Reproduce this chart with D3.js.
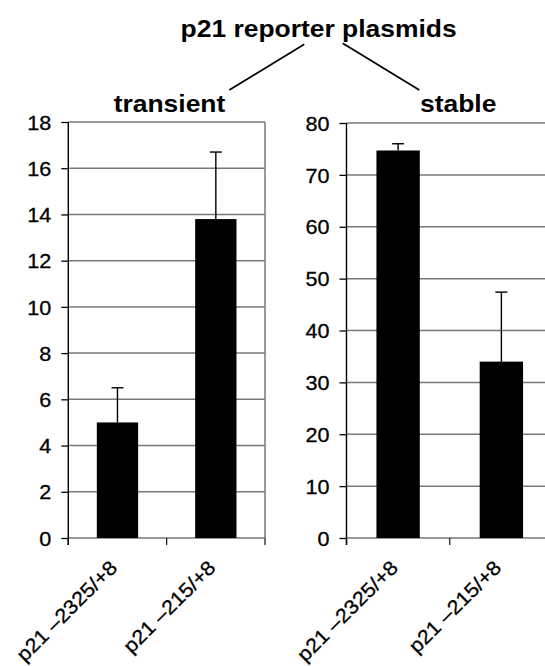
<!DOCTYPE html>
<html>
<head>
<meta charset="utf-8">
<script src="https://cdn.jsdelivr.net/npm/d3@7"></script>
<style>
  html, body { margin: 0; padding: 0; background: #fff; }
  svg { display: block; }
  text { font-family: "Liberation Sans", Arial, sans-serif; fill: #000; }
</style>
</head>
<body>
<script>
// Reporter constructs shown on both panels
const categories = ["p21 \u20132325/+8", "p21 \u2013215/+8"];

// Transient transfection: mean and upper error
const transientValues = [5.0, 13.8];
const transientErrors = [1.5, 2.9];
const transientTicks = [0, 2, 4, 6, 8, 10, 12, 14, 16, 18];

// Stable transfection: mean and upper error
const stableValues = [74.7, 34.0];
const stableErrors = [1.3, 13.4];
const stableTicks = [0, 10, 20, 30, 40, 50, 60, 70, 80];

const panelTitles = ["transient", "stable"];
const mainTitle = "p21 reporter plasmids";

// ---- layout ----
const W = 545, H = 666;
const SX_TITLE = 1.15;      // horizontal glyph widening, titles
const SX_TICK = 1.08;       // horizontal glyph widening, tick/category labels
const TICK_FONT = 20;
const TITLE_FONT = 23;
const GRID = "#787878";

const svg = d3.select("body").append("svg")
  .attr("width", W).attr("height", H);

// text whose glyphs are widened along the baseline
function wideText(parent, x, y, str, opts = {}) {
  const rot = opts.rotate ? ` rotate(${opts.rotate})` : "";
  const sx = opts.sx || SX_TICK;
  return parent.append("text")
    .attr("transform", `translate(${x},${y})${rot} scale(${sx},1)`)
    .attr("text-anchor", opts.anchor || "middle")
    .attr("font-size", opts.size || TICK_FONT)
    .attr("font-weight", opts.bold ? "bold" : "normal")
    .attr("stroke", opts.bold ? "none" : "#000")
    .attr("stroke-width", opts.bold ? 0 : 0.3)
    .text(str);
}

const panels = [
  { title: panelTitles[0], values: transientValues, errors: transientErrors,
    ticks: transientTicks, x0: 68.3, x1: 265, yTop: 122, yBot: 538,
    titleX: 169.5 },
  { title: panelTitles[1], values: stableValues, errors: stableErrors,
    ticks: stableTicks, x0: 346.5, x1: 553, yTop: 123, yBot: 538,
    titleX: 458.2 }
];

panels.forEach(p => {
  const g = svg.append("g");
  const y = d3.scaleLinear()
    .domain([0, d3.max(p.ticks)])
    .range([p.yBot, p.yTop]);
  const x = d3.scaleBand()
    .domain(categories)
    .range([p.x0, p.x1])
    .paddingInner(0.58)
    .paddingOuter(0.29);
  const step = x.step();

  // horizontal gridlines (including frame top and zero line)
  g.append("g").selectAll("line")
    .data(p.ticks)
    .join("line")
    .attr("x1", p.x0).attr("x2", p.x1)
    .attr("y1", d => y(d)).attr("y2", d => y(d))
    .attr("stroke", GRID).attr("stroke-width", 1.5);

  // right frame edge
  g.append("line")
    .attr("x1", p.x1).attr("x2", p.x1)
    .attr("y1", p.yTop).attr("y2", p.yBot)
    .attr("stroke", GRID).attr("stroke-width", 1.5);

  // category boundary ticks below the baseline
  const bounds = d3.range(categories.length + 1).map(i => p.x0 + i * step);
  g.append("g").selectAll("line")
    .data(bounds)
    .join("line")
    .attr("x1", d => d).attr("x2", d => d)
    .attr("y1", p.yBot).attr("y2", p.yBot + 7)
    .attr("stroke", "#222").attr("stroke-width", 1.3);

  // bars
  g.append("g").selectAll("rect")
    .data(p.values)
    .join("rect")
    .attr("x", (d, i) => x(categories[i]))
    .attr("width", x.bandwidth())
    .attr("y", d => y(d))
    .attr("height", d => y(0) - y(d))
    .attr("fill", "#000");

  // upper error bars
  const eb = g.append("g").attr("stroke", "#000").attr("stroke-width", 1.4);
  p.values.forEach((v, i) => {
    const cx = x(categories[i]) + x.bandwidth() / 2;
    const top = y(v + p.errors[i]);
    eb.append("line").attr("x1", cx).attr("x2", cx)
      .attr("y1", y(v)).attr("y2", top);
    eb.append("line").attr("x1", cx - 6).attr("x2", cx + 6)
      .attr("y1", top).attr("y2", top);
  });

  // y axis
  const axis = d3.axisLeft(y)
    .tickValues(p.ticks)
    .tickSize(7)
    .tickSizeOuter(0)
    .tickFormat(d3.format("d"));
  const ag = g.append("g")
    .attr("transform", `translate(${p.x0},0)`)
    .call(axis);
  ag.select(".domain").attr("stroke", "#000").attr("stroke-width", 1.4)
    .attr("d", `M0,${p.yTop}V${p.yBot + 7}`);
  ag.selectAll(".tick line").attr("stroke", "#000").attr("stroke-width", 1.3);
  ag.selectAll(".tick text")
    .attr("x", null).attr("dy", "0.36em")
    .attr("transform", `translate(-17,0) scale(${SX_TICK},1)`)
    .attr("font-size", TICK_FONT)
    .attr("font-family", '"Liberation Sans", Arial, sans-serif')
    .attr("fill", "#000")
    .attr("stroke", "#000")
    .attr("stroke-width", 0.3);

  // rotated category labels
  categories.forEach(c => {
    const cx = x(c) + x.bandwidth() / 2;
    wideText(g, cx + 1, 569, c, { rotate: -45, anchor: "end" });
  });

  // panel title
  wideText(g, p.titleX, 111.5, p.title,
    { size: TITLE_FONT, bold: true, sx: SX_TITLE });
});

// overall title with branches down to each panel title
wideText(svg, 318.6, 36.5, mainTitle,
  { size: TITLE_FONT, bold: true, sx: SX_TITLE });
const branches = [
  [[304.3, 44.3], [229.3, 90]],
  [[342.7, 43.3], [419.3, 90]]
];
svg.append("g").selectAll("line")
  .data(branches)
  .join("line")
  .attr("x1", d => d[0][0]).attr("y1", d => d[0][1])
  .attr("x2", d => d[1][0]).attr("y2", d => d[1][1])
  .attr("stroke", "#000").attr("stroke-width", 1.7);
</script>
</body>
</html>
